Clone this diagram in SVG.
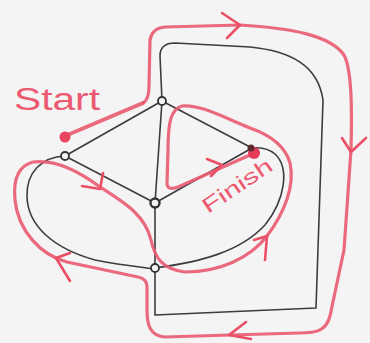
<svg xmlns="http://www.w3.org/2000/svg" width="370" height="343" viewBox="0 0 370 343">
<style>
.edge{fill:none;stroke:#3c3c40;stroke-width:1.6;stroke-linecap:round;stroke-linejoin:round}
.route{fill:none;stroke:#ea5a70;stroke-width:3.2;stroke-linecap:round;stroke-linejoin:round;opacity:0.9}
.chev{fill:none;stroke:#ea4f66;stroke-width:2.6;stroke-linecap:round;stroke-linejoin:round}
.node{fill:#f4f4f4;stroke:#333;stroke-width:1.8}
.lbl{fill:#ec5a72;font-family:"Liberation Sans",sans-serif}
</style>
<rect width="370" height="343" fill="#f4f4f4"/>
<g id="connectors">
  <path class="edge" d="M162,101 L65,156"/>
  <path class="edge" d="M162,101 L252,148"/>
  <path class="edge" d="M162,101 L155,203"/>
  <path class="edge" d="M65,156 L155,203"/>
  <path class="edge" d="M155,203 L252,148"/>
  <path class="edge" d="M155,203 L155,268"/>
  <path class="edge" d="M65,156 C42,157 26,172 27,197 C28,225 52,248 95,260 C120,265 140,267 155,269"/>
  <path class="edge" d="M155,268 C200,262 240,252 265,225 C285,200 290,168 275,154 C268,148 260,147 252,148"/>
  <path class="edge" d="M162,101 L160,56 Q160,43 175,43 L250,47 C290,51 318,65 323,100 L316,308 L155,315 L155,268"/>
  <path class="route" style="stroke-width:4" d="M65,136 L143,103"/>
  <path class="route" d="M143,103 Q149,100 149,86 L150,40 Q152,28 165,27 L240,25 C290,28 330,35 344,55 C352,70 352,110 351,150 L344,250 L330,316 C326,331 316,333 300,333 L230,335 L165,337 C150,336 147,325 147,310 L147,286 Q147,279 138,277 L67,262 C40,255 18,230 15,200 C13,180 18,166 33,162 C55,159 80,172 100,187 C125,203 145,215 151,240 C155,258 162,269 185,272 C220,272 250,258 267,236 C285,212 295,185 290,163 C285,145 270,135 250,128 C225,118 200,104 182,106 C171,109 168,122 168,150 L167,184 Q168,191 178,187 L250,155"/>
  <path class="chev" d="M222,13 L240,25 L227,38"/>
  <path class="chev" d="M342,138 L351,152 L366,138"/>
  <path class="chev" d="M246,322 L229,335 L251,339"/>
  <path class="chev" d="M70,253 L56,258 L70,281"/>
  <path class="chev" d="M82,186 L100,189 L103,173"/>
  <path class="chev" d="M254,240 L267,236 L265,260"/>
  <path class="chev" d="M207,159 L222,165 L211,176"/>
</g>
<g id="node-start">
  <circle cx="65" cy="137" r="5.5" fill="#e9445f"/>
  <text class="lbl" x="14" y="110" font-size="31" textLength="86" lengthAdjust="spacingAndGlyphs">Start</text>
</g>
<g id="node-a"><circle class="node" cx="162" cy="101" r="4"/></g>
<g id="node-b"><circle class="node" cx="65" cy="156" r="4"/></g>
<g id="node-c"><circle class="node" cx="155" cy="203" r="4.5" style="stroke-width:2.4"/></g>
<g id="node-d"><circle class="node" cx="155" cy="268" r="4"/></g>
<g id="node-finish">
  <circle cx="254" cy="153" r="6" fill="#e63a58"/>
  <circle cx="251" cy="148" r="3.5" fill="#5a2a30"/>
  <text class="lbl" x="208" y="214" font-size="21" textLength="80" lengthAdjust="spacingAndGlyphs" transform="rotate(-34 208 214)">Finish</text>
</g>
</svg>
